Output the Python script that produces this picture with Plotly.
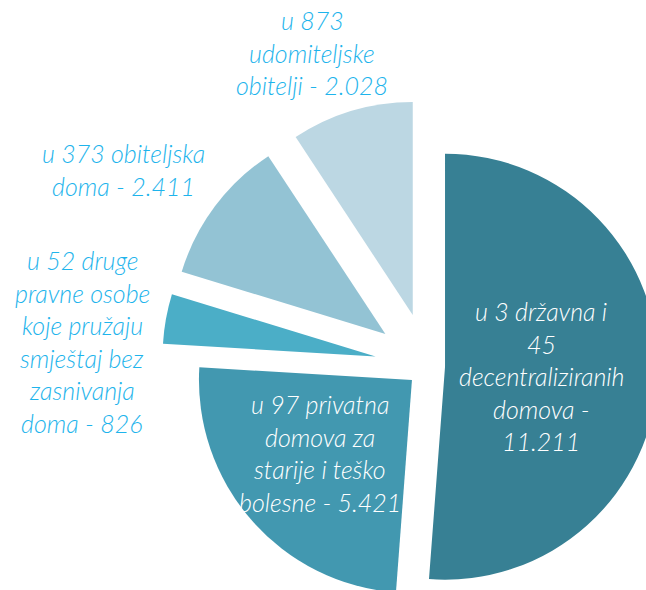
import plotly.graph_objects as go

# ---- data ----
categories = [
    "u 3 državna i 45 decentraliziranih domova",
    "u 97 privatna domova za starije i teško bolesne",
    "u 52 druge pravne osobe koje pružaju smještaj bez zasnivanja doma",
    "u 373 obiteljska doma",
    "u 873 udomiteljske obitelji",
]
values = [11211, 5421, 826, 2411, 2028]
label_lines = [
    ["u 3 državna i", "45", "decentraliziranih", "domova -", "11.211"],
    ["u 97 privatna", "domova za", "starije i teško", "bolesne - 5.421"],
    ["u 52 druge", "pravne osobe", "koje pružaju", "smještaj bez", "zasnivanja", "doma - 826"],
    ["u 373 obiteljska", "doma - 2.411"],
    ["u 873", "udomiteljske", "obitelji - 2.028"],
]

# ---- style ----
colors = ["#378094", "#4298B0", "#4BAEC7", "#93C3D4", "#BCD7E3"]
pulls = [0.08, 0.10, 0.25, 0.25, 0.25]
label_colors = ["white", "white", "#1EB4EC", "#1EB4EC", "#1EB4EC"]
# label block centres in pixels (x, y of first line)
label_pos = [(541, 311), (320, 404), (82, 260), (124, 153), (312, 20)]
LINE_GAP = 32.6

W, H = 700, 640
CX, CY, R = 428, 366, 213
half = R * (1 + max(pulls))

fig = go.Figure(go.Pie(
    labels=categories, values=values, sort=False, direction="clockwise",
    rotation=0, pull=pulls, textinfo="none", hoverinfo="label+value",
    marker=dict(colors=colors, line=dict(width=0)),
    domain=dict(x=[(CX - half) / W, (CX + half) / W],
                y=[1 - (CY + half) / H, 1 - (CY - half) / H]),
    showlegend=False,
))

annotations = []
for lines, (lx, ly), col in zip(label_lines, label_pos, label_colors):
    for i, line in enumerate(lines):
        annotations.append(dict(
            text=line, x=lx / W, y=1 - (ly + i * LINE_GAP) / H,
            xref="paper", yref="paper", xanchor="center", yanchor="middle",
            showarrow=False,
            font=dict(family="Lato", size=25, color=col, style="italic", weight=300),
        ))

fig.update_layout(
    width=W, height=H, margin=dict(l=0, r=0, t=0, b=0),
    paper_bgcolor="white", plot_bgcolor="white",
    annotations=annotations,
)

fig.write_html(
    "out.html",
    post_script="document.body.style.margin='0';document.documentElement.style.overflow='hidden';document.body.style.overflow='hidden';",
)
